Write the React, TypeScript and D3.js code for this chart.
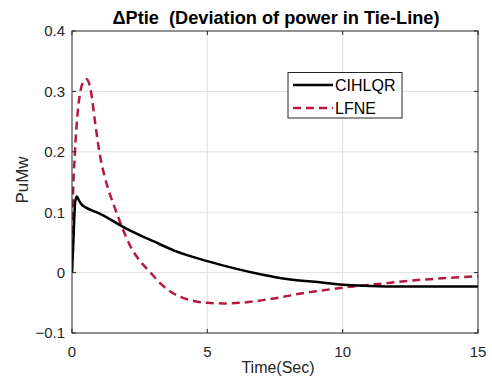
import React from "react";
import * as d3 from "d3";

const cihlqrT = [0, 0.05, 0.12, 0.18, 0.25, 0.35, 0.5, 0.85, 1.0, 1.38, 1.87, 2.5, 3.0, 3.8, 5.0, 6.0, 7.0, 8.0, 9.16, 10.0, 11.0, 12.0, 13.5, 15.0];
const cihlqrV = [0, 0.05, 0.118, 0.126, 0.12, 0.113, 0.108, 0.101, 0.098, 0.089, 0.076, 0.062, 0.052, 0.036, 0.019, 0.007, -0.003, -0.011, -0.016, -0.02, -0.022, -0.023, -0.023, -0.023];

const lfneT = [0, 0.03, 0.11, 0.2, 0.31, 0.42, 0.54, 0.62, 0.7, 0.85, 1.01, 1.2, 1.4, 1.6, 1.85, 2.2, 2.5, 2.88, 3.2, 3.56, 4.0, 4.5, 5.0, 5.6, 6.2, 7.0, 7.7, 8.4, 9.16, 10.0, 10.6, 11.3, 12.1, 13.5, 15.0];
const lfneV = [0, 0.11, 0.2, 0.26, 0.3, 0.316, 0.32, 0.315, 0.3, 0.25, 0.2, 0.16, 0.13, 0.105, 0.075, 0.04, 0.02, 0.001, -0.015, -0.029, -0.04, -0.047, -0.05, -0.051, -0.05, -0.046, -0.041, -0.035, -0.03, -0.025, -0.022, -0.019, -0.015, -0.01, -0.006];

const xTicks = [0, 5, 10, 15];
const yTicks = [-0.1, 0, 0.1, 0.2, 0.3, 0.4];
const seriesNames = ["CIHLQR", "LFNE"];

const W = 492, H = 378;
const L = 72, R = 478, T = 31, B = 333;

export default function App() {
  const x = d3.scaleLinear().domain([0, 15]).range([L, R]);
  const y = d3.scaleLinear().domain([-0.1, 0.4]).range([B, T]);
  const line = d3.line<[number, number]>().x(d => x(d[0])).y(d => y(d[1])).curve(d3.curveMonotoneX);
  const blackPts = cihlqrT.map((t, i) => [t, cihlqrV[i]] as [number, number]);
  const redPts = lfneT.map((t, i) => [t, lfneV[i]] as [number, number]);
  const axisColor = "#262626";
  const font = "'Liberation Sans', Arial, Helvetica, sans-serif";
  const fmtY = (v: number) => (Math.abs(v) < 1e-9 ? "0" : d3.format(".1f")(v));
  return (
    <svg width={W} height={H} style={{ position: "absolute", left: 0, top: 0, background: "#fff" }} fontFamily={font}>
      <rect x={0} y={0} width={W} height={H} fill="#fff" />
      <rect x={L} y={T} width={R - L} height={B - T} fill="#fff" />
      {xTicks.slice(1, -1).map(t => (
        <line key={"gx" + t} x1={x(t)} x2={x(t)} y1={T} y2={B} stroke="#dfdfdf" strokeWidth={1} />
      ))}
      {yTicks.slice(1, -1).map(t => (
        <line key={"gy" + t} x1={L} x2={R} y1={y(t)} y2={y(t)} stroke="#dfdfdf" strokeWidth={1} />
      ))}
      <defs>
        <clipPath id="clip">
          <rect x={L} y={T} width={R - L} height={B - T} />
        </clipPath>
      </defs>
      <g clipPath="url(#clip)">
        <path d={line(redPts) || ""} fill="none" stroke="#b5193d" strokeWidth={2.5} strokeDasharray="8,5" />
        <path d={line(blackPts) || ""} fill="none" stroke="#000" strokeWidth={2.5} />
      </g>
      <rect x={L} y={T} width={R - L} height={B - T} fill="none" stroke={axisColor} strokeWidth={1} />
      {xTicks.map(t => (
        <g key={"xt" + t}>
          <line x1={x(t)} x2={x(t)} y1={B} y2={B - 4} stroke={axisColor} />
          <line x1={x(t)} x2={x(t)} y1={T} y2={T + 4} stroke={axisColor} />
          <text x={x(t)} y={357} textAnchor="middle" fontSize={15} fill={axisColor}>{t}</text>
        </g>
      ))}
      {yTicks.map(t => (
        <g key={"yt" + t}>
          <line x1={L} x2={L + 4} y1={y(t)} y2={y(t)} stroke={axisColor} />
          <line x1={R} x2={R - 4} y1={y(t)} y2={y(t)} stroke={axisColor} />
          <text x={65} y={y(t)} dy="0.36em" textAnchor="end" fontSize={15} fill={axisColor}>{fmtY(t)}</text>
        </g>
      ))}
      <text x={278} y={373} textAnchor="middle" fontSize={16} fill={axisColor}>Time(Sec)</text>
      <text transform={`translate(28,180) rotate(-90)`} textAnchor="middle" fontSize={17} fill={axisColor}>PuMw</text>
      <text x={276} y={24} textAnchor="middle" fontSize={18.2} fontWeight="bold" fill="#000" style={{ whiteSpace: "pre" }}>{"ΔPtie  (Deviation of power in Tie-Line)"}</text>
      <g>
        <rect x={288} y={72.5} width={114} height={45.5} fill="#fff" stroke={axisColor} strokeWidth={1} />
        <line x1={293} x2={333} y1={85} y2={85} stroke="#000" strokeWidth={2.5} />
        <line x1={293} x2={333} y1={108} y2={108} stroke="#b5193d" strokeWidth={2.5} strokeDasharray="8,5" />
        <text x={335} y={85} dy="0.36em" fontSize={16} fill="#000">{seriesNames[0]}</text>
        <text x={335} y={108} dy="0.36em" fontSize={16} fill="#000">{seriesNames[1]}</text>
      </g>
    </svg>
  );
}
